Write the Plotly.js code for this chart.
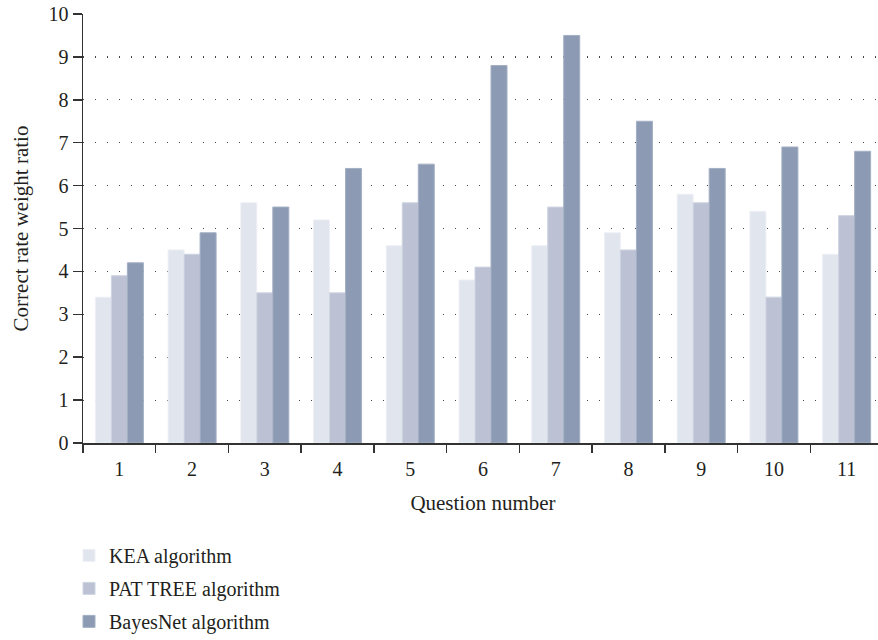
<!DOCTYPE html>
<html>
<head>
<meta charset="utf-8">
<script src="https://cdn.plot.ly/plotly-3.0.1.min.js"></script>
<style>
html,body{margin:0;padding:0;overflow:hidden;background:#fff;}
#chart{width:884px;height:640px;}
</style>
</head>
<body>
<div id="chart"></div>
<script>
const categories = ["1","2","3","4","5","6","7","8","9","10","11"];
const seriesNames = ["KEA algorithm","PAT TREE algorithm","BayesNet algorithm"];
const keaValues = [3.4, 4.5, 5.6, 5.2, 4.6, 3.8, 4.6, 4.9, 5.8, 5.4, 4.4];
const patTreeValues = [3.9, 4.4, 3.5, 3.5, 5.6, 4.1, 5.5, 4.5, 5.6, 3.4, 5.3];
const bayesNetValues = [4.2, 4.9, 5.5, 6.4, 6.5, 8.8, 9.5, 7.5, 6.4, 6.9, 6.8];
const yTickValues = [0,1,2,3,4,5,6,7,8,9,10];

const colors = ["#e1e5ee", "#bcc2d4", "#8c9bb3"];
const lineColors = ["#eef0f5", "#cfd4e1", "#a3afc3"];
const allValues = [keaValues, patTreeValues, bayesNetValues];

const fam = "Liberation Serif, DejaVu Serif, serif";
const tickFont = {family: fam, size: 20, color: "#231f20"};
const titleFont = {family: fam, size: 21, color: "#231f20"};
const legendFont = {family: fam, size: 20, color: "#231f20"};

const traces = allValues.map((vals, i) => ({
  type: "bar",
  name: seriesNames[i],
  x: categories,
  y: vals,
  legendgroup: "g" + i,
  marker: {color: colors[i], line: {color: lineColors[i], width: 1}},
  hoverinfo: "x+y+name"
}));

const layout = {
  width: 884,
  height: 640,
  margin: {l: 83, r: 1, t: 14, b: 197, autoexpand: false},
  paper_bgcolor: "#fff",
  plot_bgcolor: "#fff",
  font: tickFont,
  barmode: "group",
  bargap: 0.34,
  bargroupgap: 0,
  showlegend: true,
  legend: {
    x: -0.0175, xanchor: "left",
    y: -0.2165, yanchor: "top",
    orientation: "v",
    traceorder: "grouped",
    tracegroupgap: 4,
    font: legendFont,
    bgcolor: "rgba(0,0,0,0)"
  },
  xaxis: {
    type: "category",
    tickson: "boundaries",
    ticks: "outside",
    ticklen: 8,
    tickwidth: 1.5,
    tickcolor: "#333",
    ticklabelstandoff: 7,
    showline: true,
    linecolor: "#333",
    linewidth: 1.5,
    showgrid: false,
    zeroline: false,
    tickfont: tickFont,
    title: {text: "Question number", font: titleFont, standoff: 17}
  },
  yaxis: {
    range: [0, 10],
    tickvals: yTickValues,
    ticks: "outside",
    ticklen: 9,
    tickwidth: 1.5,
    tickcolor: "#333",
    showline: true,
    linecolor: "#333",
    linewidth: 1.5,
    showgrid: true,
    gridcolor: "#444",
    gridwidth: 1.2,
    griddash: "1.2px,10.8px",
    zeroline: false,
    tickfont: tickFont,
    title: {text: "Correct rate weight ratio", font: titleFont, standoff: 14}
  }
};

Plotly.newPlot("chart", traces, layout, {displayModeBar: false, staticPlot: true});
</script>
</body>
</html>
